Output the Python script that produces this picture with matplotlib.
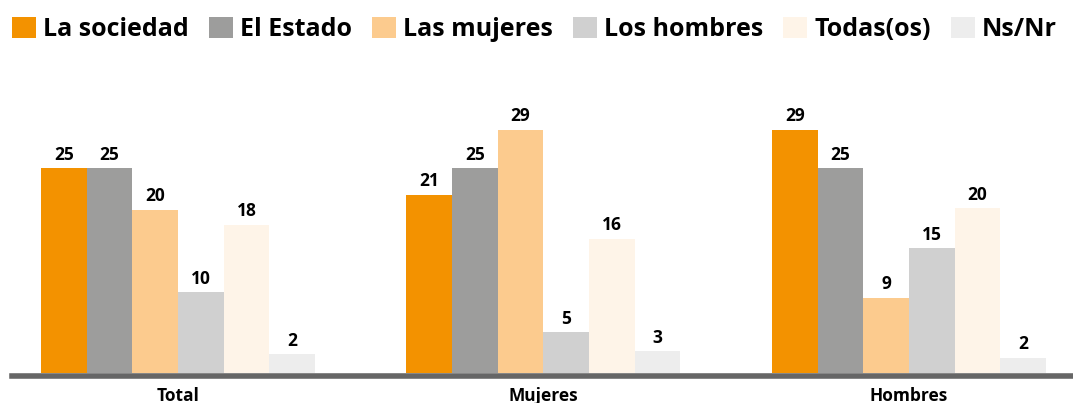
import numpy as np
import matplotlib.pyplot as plt
from matplotlib.patches import Patch

plt.rcParams['font.family'] = ['Open Sans', 'DejaVu Sans']

# Data (bar heights; labels are the rounded values)
groups = ['Total', 'Mujeres', 'Hombres']
series = ['La sociedad', 'El Estado', 'Las mujeres', 'Los hombres', 'Todas(os)', 'Ns/Nr']
values = [
    [24.6, 21.4, 29.2],   # La sociedad
    [24.6, 24.6, 24.6],   # El Estado
    [19.6, 29.2, 9.0],    # Las mujeres
    [9.7, 4.9, 15.0],     # Los hombres
    [17.8, 16.1, 19.8],   # Todas(os)
    [2.2, 2.6, 1.8],      # Ns/Nr
]
colors = ['#F39200', '#9D9D9C', '#FCCB8E', '#D0D0D0', '#FEF4E8', '#EDEDED']

fig = plt.figure(figsize=(10.73, 4.03), dpi=100)
ax = fig.add_axes([12 / 1073, 27.5 / 403, 1 - 12 / 1073, 335.6 / 403])

x = np.arange(len(groups))
width = 0.125
for i, (name, vals) in enumerate(zip(series, values)):
    pos = x + (i - 2.5) * width
    bars = ax.bar(pos, vals, width, color=colors[i], label=name, zorder=2)
    for b, v in zip(bars, vals):
        ax.annotate(f'{v:.0f}', (b.get_x() + b.get_width() / 2, v),
                    xytext=(0, 6), textcoords='offset points',
                    ha='center', va='baseline', fontsize=12.5, fontweight='bold')

ax.set_xlim(-0.454, 2.449)
ax.set_ylim(-0.34, 40)
ax.set_xticks(x)
ax.set_xticklabels(groups, fontsize=12.5, fontweight='bold')
ax.tick_params(axis='x', length=0, pad=8)
ax.set_yticks([])
for s in ['top', 'right', 'left']:
    ax.spines[s].set_visible(False)
ax.spines['bottom'].set_color('#666666')
ax.spines['bottom'].set_linewidth(4)

handles = [Patch(facecolor=c, edgecolor='none') for c in colors]
fig.legend(handles, series, loc='center', bbox_to_anchor=(0.498, 0.927), ncol=6,
           frameon=False, handlelength=0.96, handleheight=0.96, handletextpad=0.28,
           columnspacing=0.8, borderpad=0, prop={'size': 18, 'weight': 'bold'})

fig.savefig('out.png', dpi=100)
